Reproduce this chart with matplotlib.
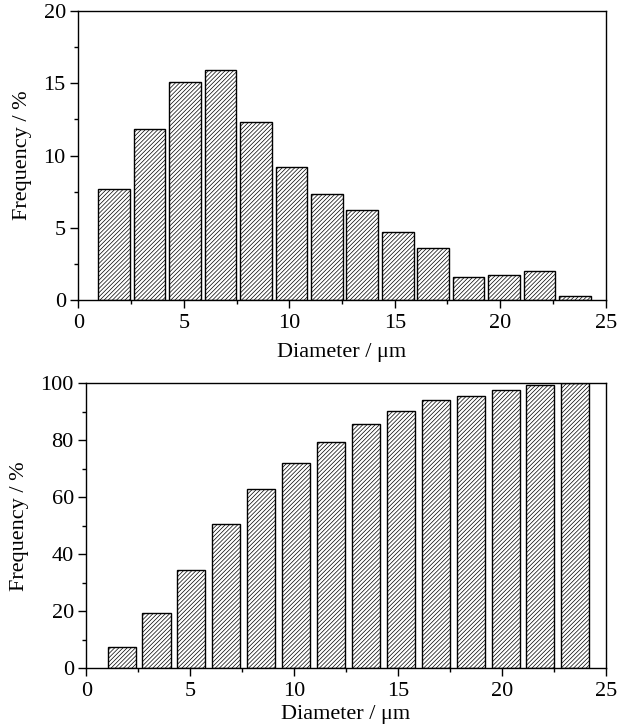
import matplotlib.pyplot as plt
from matplotlib.ticker import MultipleLocator

# diameter bin centres (um) and frequencies (%)
diameter = [1.7, 3.38, 5.06, 6.74, 8.42, 10.1, 11.78, 13.46, 15.14, 16.82,
            18.5, 20.18, 21.86, 23.54]
freq = [7.66, 11.86, 15.07, 15.92, 12.3, 9.2, 7.34, 6.2, 4.7, 3.62,
        1.57, 1.75, 1.98, 0.28]
cumulative = [7.6, 19.3, 34.6, 50.6, 62.8, 72.0, 79.4, 85.6, 90.4, 94.1,
              95.7, 97.5, 99.4, 100.0]

plt.rcParams['font.family'] = ['Liberation Serif', 'DejaVu Serif']
plt.rcParams['hatch.linewidth'] = 0.5
plt.rcParams['hatch.color'] = '#222222'
plt.rcParams['font.size'] = 16

fig = plt.figure(figsize=(6.28, 7.27), dpi=100)
ax1 = fig.add_axes([0.1247, 0.5873, 0.8398, 0.3976])
ax2 = fig.add_axes([0.1374, 0.0807, 0.8271, 0.3920])

ax1.bar(diameter, freq, width=1.5, color='white', edgecolor='black',
        linewidth=1, hatch='/' * 8)
ax2.bar(diameter, cumulative, width=1.35, color='white', edgecolor='black',
        linewidth=1, hatch='/' * 8)

ax1.set_ylim(0, 20)
ax1.yaxis.set_major_locator(MultipleLocator(5))
ax1.yaxis.set_minor_locator(MultipleLocator(2.5))
ax2.set_ylim(0, 100)
ax2.yaxis.set_major_locator(MultipleLocator(20))
ax2.yaxis.set_minor_locator(MultipleLocator(10))

for ax in (ax1, ax2):
    ax.set_xlim(0, 25)
    ax.xaxis.set_major_locator(MultipleLocator(5))
    ax.xaxis.set_minor_locator(MultipleLocator(2.5))
    ax.tick_params(which='major', direction='out', length=6, width=1,
                   labelsize=16, pad=4)
    ax.tick_params(axis='y', which='major', pad=3)
    ax.tick_params(which='minor', direction='out', length=3, width=1)
    for s in ax.spines.values():
        s.set_linewidth(1)
    ax.set_ylabel('Frequency / %', fontsize=16, labelpad=8)

ax1.set_xlabel('Diameter / μm', fontsize=16, labelpad=7)
ax2.set_xlabel('Diameter / μm', fontsize=16, labelpad=3)

plt.savefig('out.png', dpi=100)
